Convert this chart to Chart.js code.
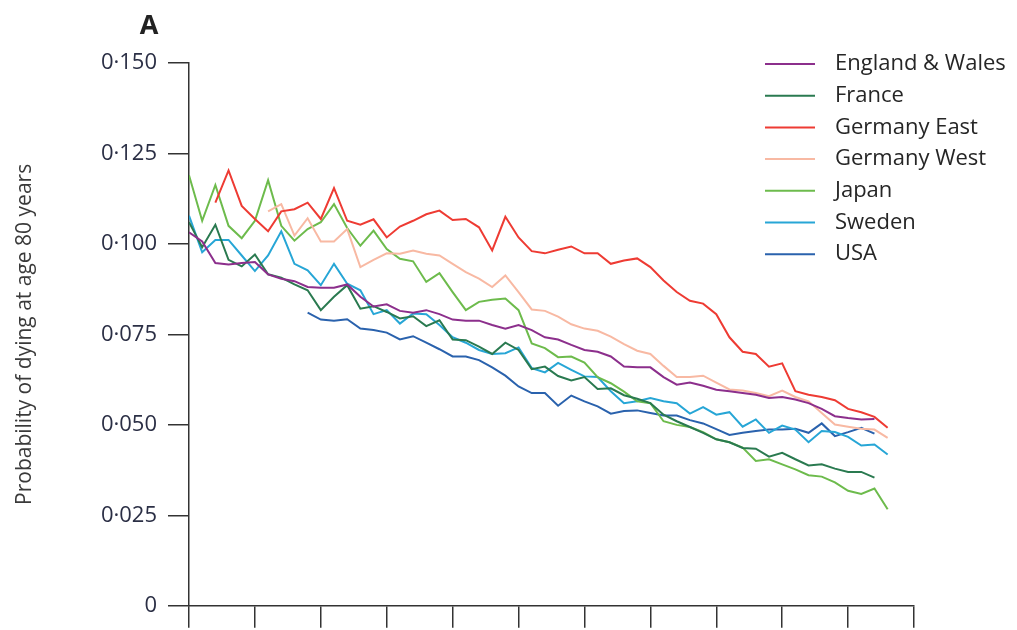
<!DOCTYPE html>
<html>
<head>
<meta charset="utf-8">
<script src="https://cdn.jsdelivr.net/npm/chart.js@4/dist/chart.umd.min.js"></script>
<style>
  html, body { margin: 0; padding: 0; background: #ffffff; }
  #wrap { width: 1017px; height: 630px; position: relative; }
</style>
</head>
<body>
<div id="wrap"><canvas id="c" width="1017" height="630"></canvas></div>
<script>
// ---- data ----
const years = [1950,1951,1952,1953,1954,1955,1956,1957,1958,1959,
  1960,1961,1962,1963,1964,1965,1966,1967,1968,1969,
  1970,1971,1972,1973,1974,1975,1976,1977,1978,1979,
  1980,1981,1982,1983,1984,1985,1986,1987,1988,1989,
  1990,1991,1992,1993,1994,1995,1996,1997,1998,1999,
  2000,2001,2002,2003];

const seriesNames = ['England & Wales','France','Germany East','Germany West','Japan','Sweden','USA'];

const englandWales = [0.1032,0.1007,0.0947,0.0943,0.0947,0.0950,0.0916,0.0904,0.0897,0.0881,
  0.0879,0.0879,0.0888,0.0854,0.0827,0.0833,0.0815,0.0810,0.0817,0.0806,
  0.0791,0.0788,0.0788,0.0776,0.0766,0.0776,0.0762,0.0742,0.0736,0.0721,
  0.0707,0.0702,0.0689,0.0661,0.0659,0.0659,0.0632,0.0611,0.0617,0.0608,
  0.0597,0.0593,0.0588,0.0583,0.0574,0.0577,0.0570,0.0560,0.0544,0.0524,
  0.0519,0.0515,0.0516,null];

const france = [0.1060,0.0991,0.1053,0.0956,0.0938,0.0971,0.0916,0.0907,0.0888,0.0872,
  0.0817,0.0854,0.0886,0.0821,0.0828,0.0812,0.0794,0.0800,0.0773,0.0789,
  0.0736,0.0734,0.0716,0.0696,0.0727,0.0707,0.0654,0.0661,0.0635,0.0623,
  0.0632,0.0599,0.0601,0.0582,0.0572,0.0560,0.0528,0.0510,0.0494,0.0478,
  0.0460,0.0452,0.0436,0.0434,0.0412,0.0423,0.0405,0.0388,0.0391,0.0379,
  0.0370,0.0370,0.0354,null];

const germanyEast = [null,null,0.1114,0.1203,0.1105,0.1069,0.1035,0.1090,0.1096,0.1114,
  0.1069,0.1154,0.1064,0.1053,0.1068,0.1018,0.1048,0.1064,0.1082,0.1092,
  0.1066,0.1069,0.1046,0.0982,0.1075,0.1018,0.0980,0.0974,0.0984,0.0993,
  0.0974,0.0974,0.0945,0.0954,0.0960,0.0936,0.0899,0.0867,0.0843,0.0835,
  0.0806,0.0742,0.0702,0.0696,0.0661,0.0670,0.0593,0.0583,0.0577,0.0568,
  0.0544,0.0535,0.0522,0.0492];

const germanyWest = [null,null,null,null,null,null,0.1090,0.1110,0.1023,0.1071,
  0.1007,0.1007,0.1041,0.0936,0.0956,0.0974,0.0973,0.0982,0.0973,0.0968,
  0.0945,0.0922,0.0904,0.0881,0.0913,0.0867,0.0819,0.0815,0.0799,0.0778,
  0.0766,0.0760,0.0744,0.0723,0.0705,0.0696,0.0663,0.0632,0.0632,0.0636,
  0.0617,0.0598,0.0595,0.0588,0.0579,0.0595,0.0577,0.0565,0.0533,0.0501,
  0.0495,0.0489,0.0487,0.0464];

const japan = [0.1190,0.1064,0.1163,0.1050,0.1016,0.1064,0.1176,0.1050,0.1009,0.1041,
  0.1060,0.1110,0.1044,0.0995,0.1037,0.0986,0.0959,0.0952,0.0895,0.0919,
  0.0867,0.0817,0.0840,0.0846,0.0849,0.0817,0.0725,0.0712,0.0687,0.0689,
  0.0672,0.0632,0.0615,0.0592,0.0565,0.0560,0.0510,0.0500,0.0494,0.0480,
  0.0460,0.0452,0.0437,0.0400,0.0405,0.0391,0.0377,0.0361,0.0357,0.0341,
  0.0318,0.0309,0.0324,0.0267];

const sweden = [0.1078,0.0977,0.1011,0.1011,0.0968,0.0925,0.0968,0.1035,0.0945,0.0927,
  0.0886,0.0945,0.0890,0.0872,0.0806,0.0817,0.0780,0.0808,0.0806,0.0776,
  0.0742,0.0727,0.0707,0.0696,0.0698,0.0714,0.0657,0.0645,0.0671,0.0652,
  0.0634,0.0632,0.0593,0.0560,0.0565,0.0574,0.0565,0.0560,0.0531,0.0549,
  0.0528,0.0535,0.0495,0.0515,0.0478,0.0498,0.0487,0.0452,0.0483,0.0480,
  0.0467,0.0443,0.0446,0.0418];

const usa = [null,null,null,null,null,null,null,null,null,0.0810,
  0.0791,0.0788,0.0792,0.0766,0.0762,0.0755,0.0736,0.0745,0.0727,0.0709,
  0.0689,0.0689,0.0679,0.0659,0.0636,0.0606,0.0588,0.0588,0.0553,0.0581,
  0.0565,0.0551,0.0531,0.0538,0.0540,0.0533,0.0526,0.0526,0.0513,0.0504,
  0.0488,0.0472,0.0478,0.0483,0.0487,0.0487,0.0489,0.0478,0.0504,0.0469,
  0.0480,0.0492,0.0476,null];

const yTickValues = [0, 0.025, 0.05, 0.075, 0.1, 0.125, 0.15];
const xTickYears = [1950,1955,1960,1965,1970,1975,1980,1985,1990,1995,2000,2005];

// ---- styles ----
const colors = ['#8c2f8c','#2a7a50','#ee3b33','#f8b9a3','#6dbb4c','#27a6d6','#2a62ad'];
const FONT = '"Open Sans", "DejaVu Sans", sans-serif';
const seriesValues = [englandWales, france, germanyEast, germanyWest, japan, sweden, usa];

function toPoints(vals) {
  const pts = [];
  vals.forEach((v, i) => { if (v !== null) pts.push({ x: years[i], y: v }); });
  return pts;
}

const datasets = seriesNames.map((name, i) => ({
  label: name,
  data: toPoints(seriesValues[i]),
  borderColor: colors[i],
  backgroundColor: colors[i],
  borderWidth: 2,
  pointRadius: 0,
  tension: 0,
  fill: false
}));

// legend drawn at the upper right, overlapping the plot area like the reference
const legendPlugin = {
  id: 'refLegend',
  afterDraw(chart) {
    const ctx = chart.ctx;
    ctx.save();
    ctx.font = '22px ' + FONT;
    ctx.textBaseline = 'middle';
    ctx.textAlign = 'left';
    chart.data.datasets.forEach((ds, i) => {
      const y = 64 + i * 31.7;
      ctx.strokeStyle = ds.borderColor;
      ctx.lineWidth = 2;
      ctx.beginPath();
      ctx.moveTo(765, y);
      ctx.lineTo(815, y);
      ctx.stroke();
      ctx.fillStyle = '#262626';
      ctx.fillText(ds.label, 835, y);
    });
    // panel letter
    ctx.font = 'bold 27px ' + FONT;
    ctx.fillStyle = '#222';
    ctx.textAlign = 'center';
    ctx.fillText('A', 149, 26);
    ctx.restore();
  }
};

new Chart(document.getElementById('c'), {
  type: 'line',
  data: { datasets },
  options: {
    responsive: false,
    animation: false,
    devicePixelRatio: 1,
    layout: { padding: { top: 63, right: 103, bottom: 0, left: 0 } },
    plugins: { legend: { display: false }, tooltip: { enabled: false }, title: { display: false } },
    scales: {
      x: {
        type: 'linear',
        min: 1950,
        max: 2005,
        afterBuildTicks: (s) => { s.ticks = xTickYears.map(v => ({ value: v })); },
        ticks: { display: false },
        grid: { drawOnChartArea: false, drawTicks: true, tickLength: 22, color: '#333', lineWidth: 1.5 },
        border: { display: true, color: '#333', width: 1.5 }
      },
      y: {
        type: 'linear',
        min: 0,
        max: 0.15,
        afterBuildTicks: (s) => { s.ticks = yTickValues.map(v => ({ value: v })); },
        afterFit: (s) => { s.width = 189; },
        ticks: {
          color: '#2b2f45',
          font: { family: FONT, size: 22 },
          padding: 11,
          callback: (v) => v === 0 ? '0' : Number(v).toFixed(3).replace('.', '\u00B7')
        },
        grid: { drawOnChartArea: false, drawTicks: true, tickLength: 21, color: '#333', lineWidth: 1.5 },
        border: { display: true, color: '#333', width: 1.5 },
        title: {
          display: true,
          text: 'Probability of dying at age 80 years',
          color: '#3a3a3a',
          font: { family: FONT, size: 21 },
          padding: { top: 12, bottom: 0 }
        }
      }
    }
  },
  plugins: [legendPlugin]
});
</script>
</body>
</html>
